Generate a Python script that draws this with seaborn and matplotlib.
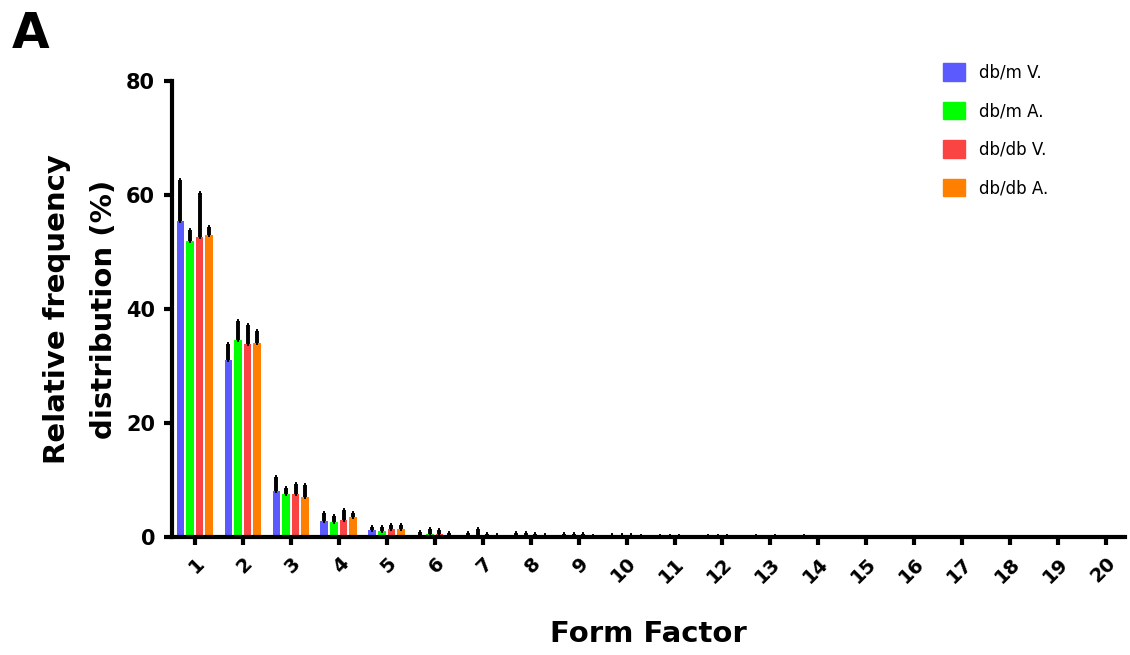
import matplotlib
matplotlib.use("Agg")
import matplotlib.pyplot as plt
import numpy as np
import pandas as pd
import seaborn as sns

# Data
form_factor = [str(i) for i in range(1, 21)]
groups = ["db/m V.", "db/m A.", "db/db V.", "db/db A."]
colors = ["#5a5aff", "#00ff00", "#fa4444", "#ff7f00"]

dbm_v = [55.4, 31.0, 8.1, 2.9, 1.2, 0.3, 0.2, 0.2, 0.1, 0.1,
         0.05, 0.05, 0.05, 0.05, 0, 0, 0, 0, 0, 0]
dbm_a = [51.9, 34.6, 7.5, 2.6, 1.0, 0.5, 0.4, 0.2, 0.2, 0.1,
         0.05, 0.05, 0, 0, 0, 0, 0, 0, 0, 0]
dbdb_v = [52.6, 33.9, 7.5, 3.0, 1.4, 0.6, 0.2, 0.1, 0.2, 0.1,
          0.05, 0.05, 0.05, 0, 0, 0, 0, 0, 0, 0]
dbdb_a = [53.0, 34.0, 7.0, 3.5, 1.4, 0.3, 0.1, 0.1, 0.05, 0.05,
          0, 0, 0, 0, 0, 0, 0, 0, 0, 0]

dbm_v_err = [7.2, 2.9, 2.4, 1.3, 0.6, 0.6, 0.5, 0.5, 0.4, 0.2,
             0.2, 0.2, 0.2, 0.2, 0.1, 0.1, 0.1, 0.1, 0.1, 0.1]
dbm_a_err = [2.0, 3.4, 1.2, 1.1, 0.8, 1.0, 1.1, 0.6, 0.4, 0.2,
             0.2, 0.2, 0.1, 0.1, 0.1, 0.1, 0.1, 0.1, 0.1, 0.1]
dbdb_v_err = [7.7, 3.4, 1.8, 1.7, 0.7, 0.6, 0.4, 0.4, 0.4, 0.2,
              0.2, 0.2, 0.2, 0.1, 0.1, 0.1, 0.1, 0.1, 0.1, 0.1]
dbdb_a_err = [1.4, 2.2, 2.1, 0.8, 0.7, 0.4, 0.2, 0.2, 0.2, 0.1,
              0.1, 0.1, 0.1, 0.1, 0.1, 0.1, 0.1, 0.1, 0.1, 0.1]

means = [dbm_v, dbm_a, dbdb_v, dbdb_a]
errs = [dbm_v_err, dbm_a_err, dbdb_v_err, dbdb_a_err]

df = pd.DataFrame({
    "ff": np.tile(form_factor, len(groups)),
    "group": np.repeat(groups, len(form_factor)),
    "value": np.concatenate(means),
})

sns.set_theme(style="white")
plt.rcParams["font.family"] = ["DejaVu Sans"]
plt.rcParams["text.color"] = "black"
plt.rcParams["axes.labelcolor"] = "black"
plt.rcParams["xtick.color"] = "black"
plt.rcParams["ytick.color"] = "black"

fig = plt.figure(figsize=(11.3, 6.55), dpi=100)
ax = fig.add_axes([0.152, 0.180, 0.844, 0.696])

sns.barplot(data=df, x="ff", y="value", hue="group", order=form_factor,
            hue_order=groups, palette=colors, errorbar=None, width=0.8,
            gap=0.2, saturation=1, linewidth=0, ax=ax, legend=False)

# upper-only error bars, positioned from the drawn bars
for cont, err in zip(ax.containers, errs):
    xs = [b.get_x() + b.get_width() / 2 for b in cont]
    ys = [b.get_height() for b in cont]
    ax.errorbar(xs, ys, yerr=[np.zeros(len(err)), err], fmt="none",
                ecolor="black", elinewidth=2.8, capsize=1.0, capthick=2.8,
                zorder=1)

ax.set_ylim(0, 80)
ax.set_xlim(-0.48, 19.4)
ax.set_yticks([0, 20, 40, 60, 80])
for s in ["top", "right"]:
    ax.spines[s].set_visible(False)
for s in ["left", "bottom"]:
    ax.spines[s].set_linewidth(3)
    ax.spines[s].set_color("black")
ax.tick_params(axis="both", length=6, width=3, color="black", direction="out",
               bottom=True, left=True, pad=6)
ax.set_yticklabels(["0", "20", "40", "60", "80"], fontsize=15, fontweight="bold")
ax.set_xticks(range(len(form_factor)))
ax.set_xticklabels(form_factor, fontsize=14, fontweight="bold", rotation=45,
                   ha="right", rotation_mode="anchor")

ax.set_xlabel("Form Factor", fontsize=21, fontweight="bold", labelpad=24)
ax.set_ylabel("Relative frequency\ndistribution (%)", fontsize=21,
              fontweight="bold", labelpad=6, linespacing=1.85)

handles = [plt.Rectangle((0, 0), 1, 1, color=c) for c in colors]
ax.legend(handles, groups, loc="upper left", bbox_to_anchor=(0.793, 1.072),
          frameon=False, fontsize=12, handlelength=1.3, handleheight=1.25,
          labelspacing=1.2, handletextpad=0.85)

fig.text(0.010, 0.985, "A", fontsize=35, fontweight="bold", va="top", ha="left")

fig.savefig("out.png", dpi=100)
